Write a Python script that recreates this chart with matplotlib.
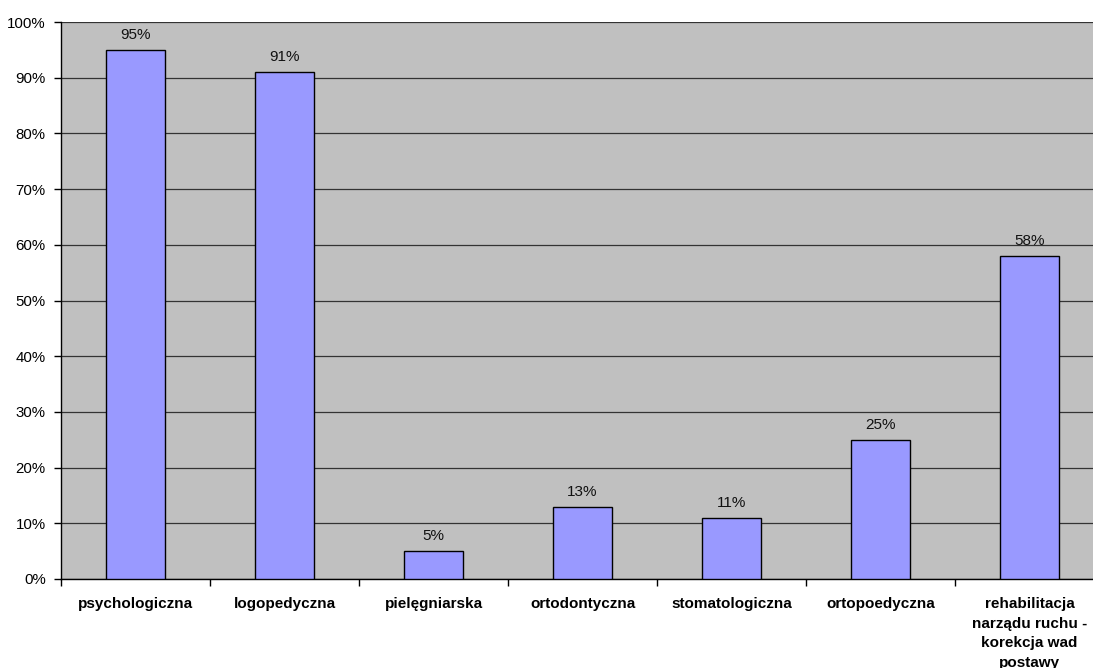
import numpy as np
import matplotlib
matplotlib.use("Agg")
import matplotlib.pyplot as plt
from matplotlib.ticker import PercentFormatter

categories = ["psychologiczna", "logopedyczna", "pielęgniarska", "ortodontyczna",
              "stomatologiczna", "ortopoedyczna",
              "rehabilitacja\nnarządu ruchu -\nkorekcja wad\npostawy"]
values = [95, 91, 5, 13, 11, 25, 58]

plt.rcParams['font.family'] = ['Liberation Sans', 'DejaVu Sans']

fig = plt.figure(figsize=(10.93, 6.68), dpi=100)
ax = fig.add_axes([61 / 1093, 1 - 579 / 668, 1043 / 1093, 557 / 668])
ax.set_facecolor("#C0C0C0")

x = np.arange(len(categories))
bars = ax.bar(x, values, width=0.4, color="#9999FF", edgecolor="black", linewidth=1, zorder=3)
for b, v in zip(bars, values):
    ax.text(b.get_x() + b.get_width() / 2, v + 1.4, f"{v}%", ha="center", va="bottom",
            fontsize=11, color="#111111", zorder=4)

ax.set_xlim(-0.5, len(categories) - 0.5)
ax.set_ylim(0, 100)
ax.set_yticks(range(0, 101, 10))
ax.yaxis.set_major_formatter(PercentFormatter(decimals=0))
ax.yaxis.grid(True, color="#333333", linewidth=0.9, zorder=1)
ax.set_axisbelow(True)

ax.set_xticks(x)
ax.set_xticklabels(categories, fontweight="bold", fontsize=11, linespacing=1.5)
ax.tick_params(axis="x", length=0, pad=13)
ax.set_xticks(np.arange(len(categories) + 1) - 0.5, minor=True)
ax.tick_params(axis="x", which="minor", length=5, width=1)
ax.tick_params(axis="y", length=5, width=1, labelsize=10.8, pad=6)

for s in ["top", "right"]:
    ax.spines[s].set_visible(False)
ax.spines["left"].set_linewidth(1)
ax.spines["bottom"].set_linewidth(1)

fig.savefig("out.png", dpi=100)
